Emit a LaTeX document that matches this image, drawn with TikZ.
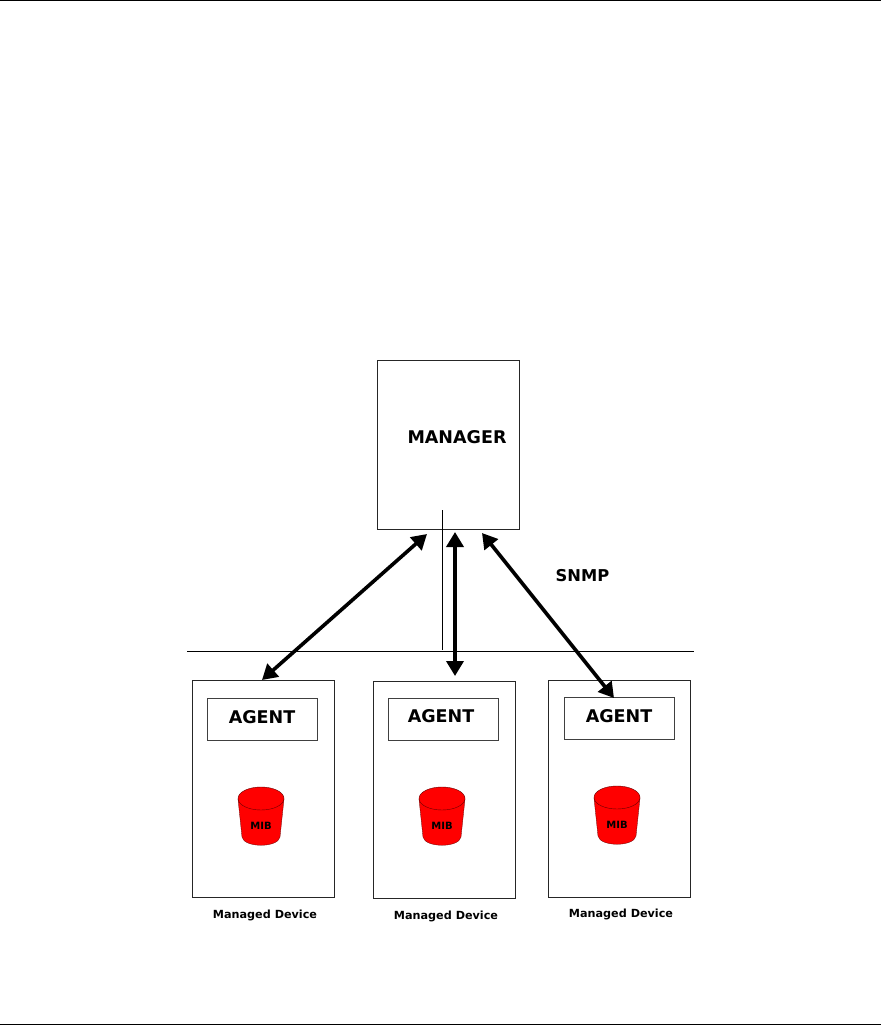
\documentclass[tikz,border=0pt]{standalone}
\usepackage{fontspec}
\setmainfont{DejaVu Sans}
\usetikzlibrary{arrows.meta}
\definecolor{mibred}{HTML}{FF0000}
\tikzset{
  devicebox/.style={draw=black!85, line width=1pt, anchor=north west, inner sep=0pt},
  agentbox/.style={draw=black!75, line width=1pt, anchor=north west, inner sep=0pt},
  bigtext/.style={font=\bfseries\fontsize{17.5}{20}\selectfont, inner sep=0pt},
  snmptext/.style={font=\bfseries\fontsize{16.3}{20}\selectfont, inner sep=0pt},
  smalltext/.style={font=\bfseries\fontsize{11.2}{13}\selectfont, inner sep=0pt},
  mibtext/.style={font=\bfseries\fontsize{10}{12}\selectfont, inner sep=0pt},
  snmplink/.style={line width=3.6pt, {Triangle[length=15pt,width=17pt]}-{Triangle[length=15pt,width=17pt]}}
}
\begin{document}
\begin{tikzpicture}[x=1pt,y=-1pt]
\useasboundingbox (0,0) rectangle (881,1026);
\fill[white] (0,0) rectangle (881,1026);
%Page rules:
\draw[line width=1pt] (0,0.5) -- (881,0.5);
\draw[line width=1pt] (0,1024.5) -- (881,1024.5);
%Manager:
\node[devicebox, minimum width=142pt, minimum height=169pt] (manager) at (377,360) {};
\node[bigtext] (managertext) at (457,437) {MANAGER};
\node[snmptext] (snmplabel) at (582.5,575.5) {SNMP};
%Bus:
\coordinate (busleft) at (187,651);
\coordinate (busright) at (694,651);
\coordinate (stubtop) at (442,510);
\coordinate (stubend) at (442,650);
\draw[line width=1pt] (busleft) -- (busright);
\draw[line width=1pt] (stubtop) -- (stubend);
%Devices:
\foreach \name/\bx/\by/\ax/\ay/\tx/\ty/\cx/\cy/\lx/\ly in {
  one/192/680/207/698/262/717/261/787/265/915,
  two/373/681/388/698/441/716/442/787/446/916,
  three/548/680/564/697/619/716/617/786/621/914.5}{
  \node[devicebox, minimum width=142pt, minimum height=217pt] (device\name) at (\bx,\by) {};
  \node[agentbox, minimum width=110pt, minimum height=41.5pt] (agent\name) at (\ax,\ay) {};
  \node[bigtext] (agenttext\name) at (\tx,\ty) {AGENT};
  %MIB drum:
  \path[fill=mibred, draw=black!60!red, line width=0.3pt] (\cx-23,\cy+12) -- (\cx-19,\cy+50)
    .. controls (\cx-17,\cy+61) and (\cx+17,\cy+61) .. (\cx+19,\cy+50) -- (\cx+23,\cy+12) -- cycle;
  \draw[fill=mibred, draw=black!60!red, line width=0.4pt] (\cx,\cy+11.5) ellipse [x radius=23, y radius=11.5];
  \node[mibtext] (mib\name) at (\cx,\cy+39) {MIB};
  \node[smalltext] (label\name) at (\lx,\ly) {Managed Device};
}
%Links:
\coordinate (linkonetop) at (427,534);
\coordinate (linkonebot) at (262,680);
\coordinate (linktwotop) at (455,532);
\coordinate (linktwobot) at (455,676);
\coordinate (linkthreetop) at (482,533);
\coordinate (linkthreebot) at (614,698);
\draw[snmplink] (linkonetop) -- (linkonebot);
\draw[snmplink] (linktwotop) -- (linktwobot);
\draw[snmplink] (linkthreetop) -- (linkthreebot);
\end{tikzpicture}
\end{document}
